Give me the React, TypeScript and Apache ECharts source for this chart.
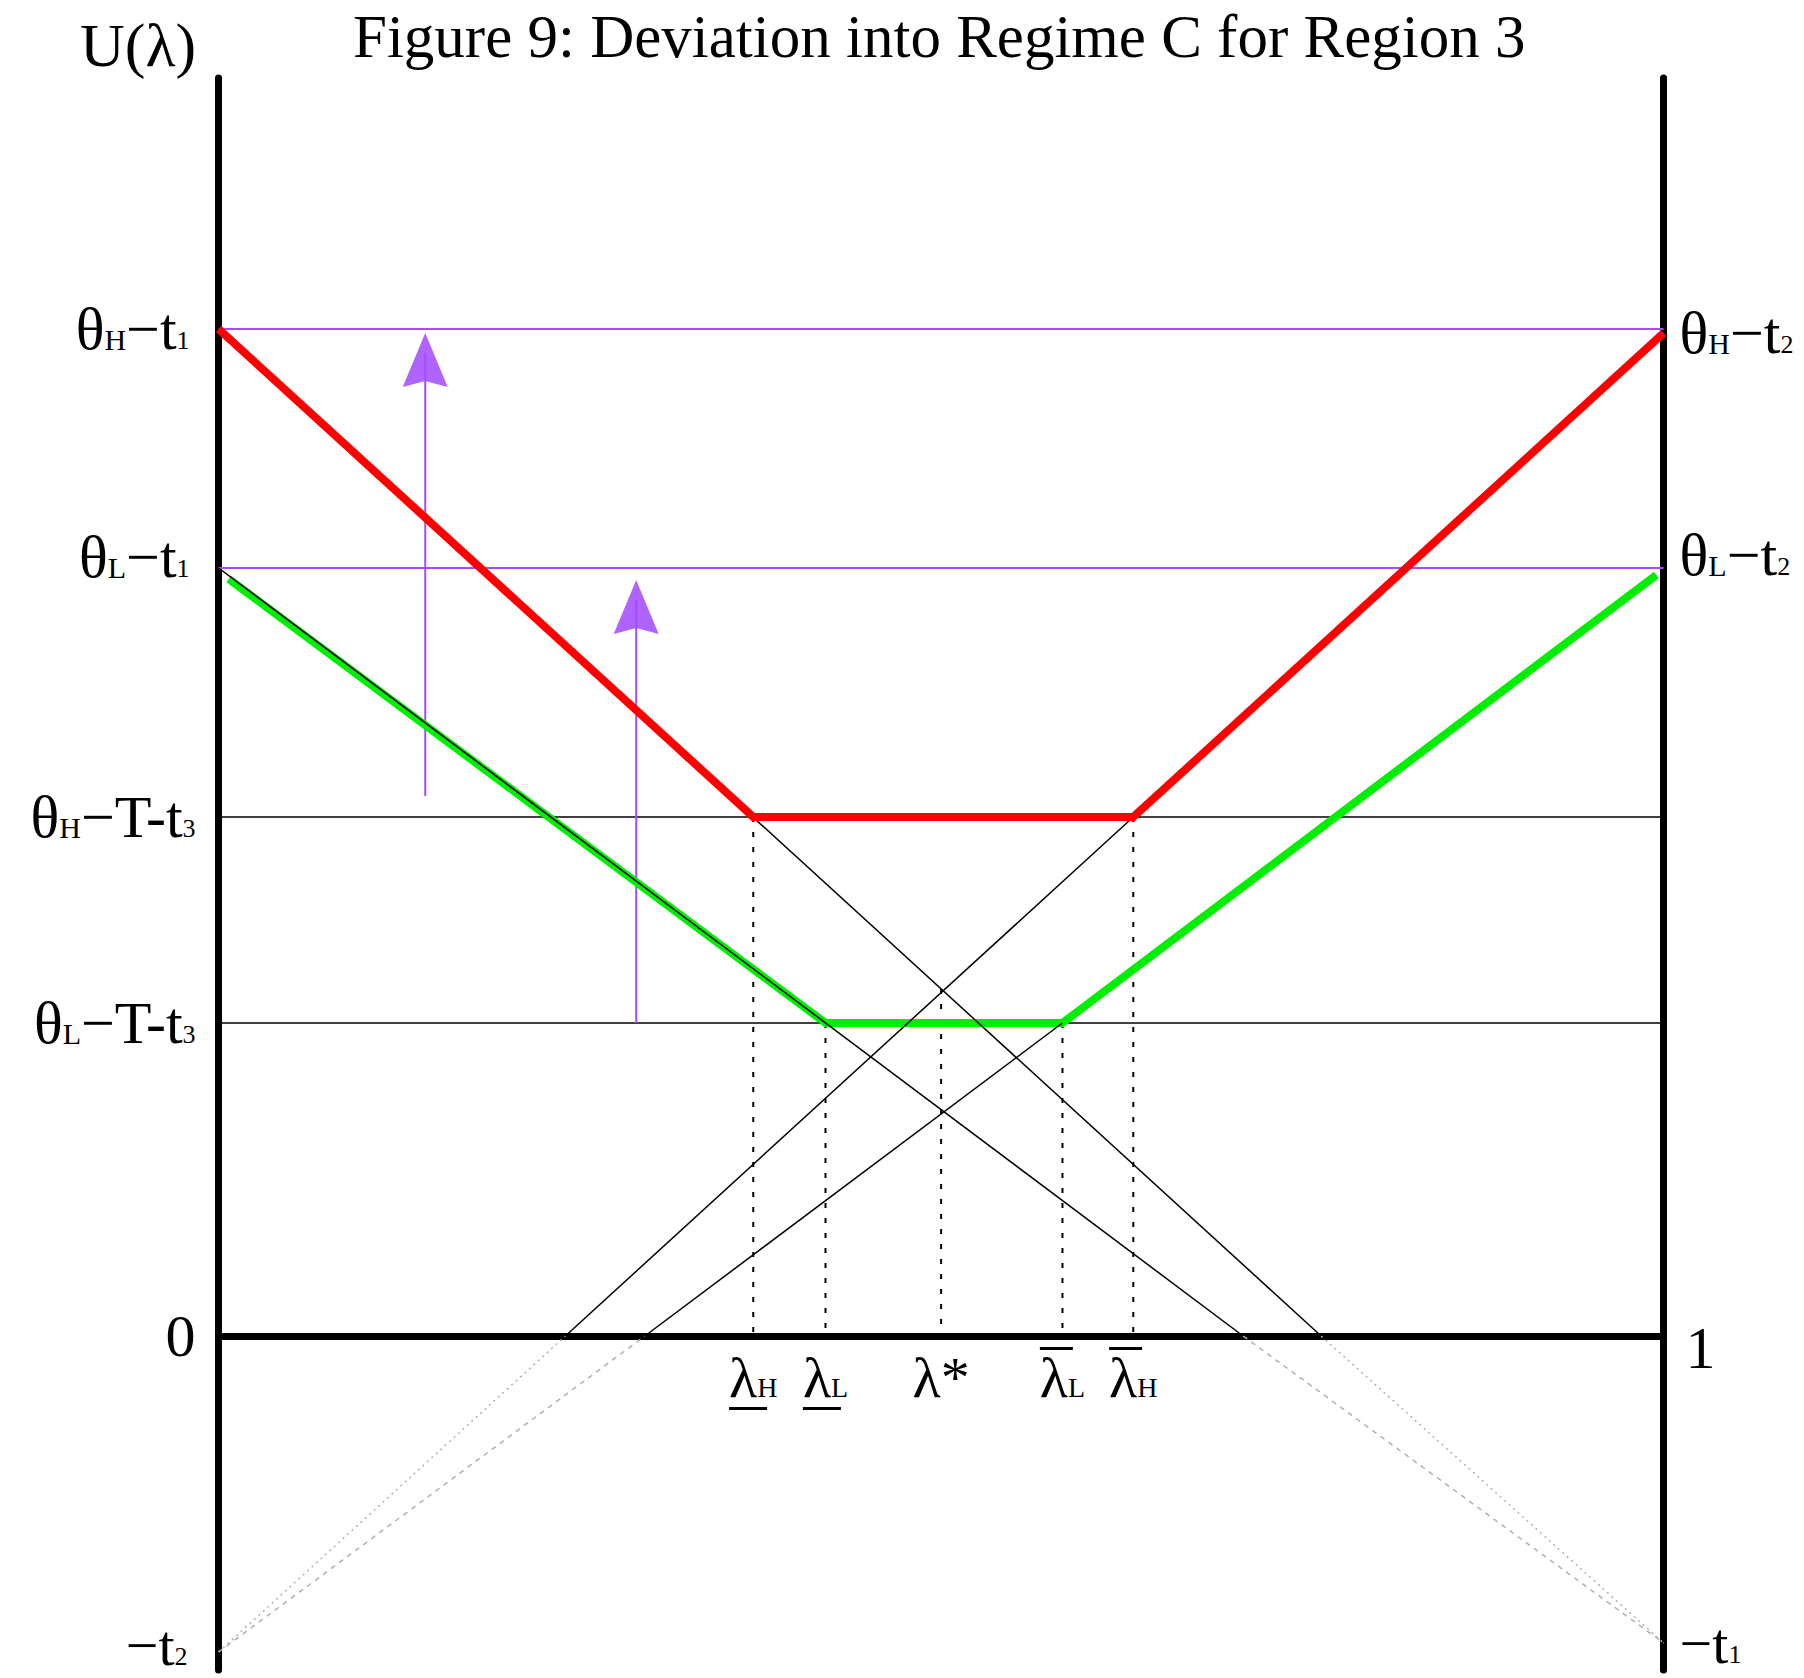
import { useEffect, useRef } from 'react';
import * as echarts from 'echarts';

const SERIF = '"Liberation Serif", "Times New Roman", Times, serif';
const INK = '#000000';
const RED = '#ff0000';
const GREEN = '#00ee00';
const VIOLET = '#a24dff';
const VIOLET_HEAD = '#9b3cff';
const GREY = '#b0b0b0';

// Plot frame
const WIDTH = 1804;
const HEIGHT = 1678;
const GRID_LEFT = 218.6;
const GRID_RIGHT = 140.4;
const GRID_TOP = 78;
const GRID_BOTTOM = 8;
const GRID_HEIGHT = HEIGHT - GRID_TOP - GRID_BOTTOM;

// Extent of the U(λ) scale
const U_MIN = -0.334;
const U_MAX = 1.258;

// Levels marked on the left edge (λ = 0)
const leftLevelValues = [1.007, 0.768, 0.519, 0.313, 0, -0.316];
const leftLevelLabels = [
  '{m|θ}{s|H}{m|−t}{d1|1}',
  '{m|θ}{s|L}{m|−t}{d1|1}\n{gapL| }',
  '{m|θ}{s|H}{m|−T-t}{d|3}',
  '{m|θ}{s|L}{m|−T-t}{d|3}',
  '{m|0}',
  '{mt|−t}{dt|2}\n{gapB| }',
];

// Levels marked on the right edge (λ = 1)
const rightLevelValues = [1.003, 0.761, 0, -0.307];
const rightLevelLabels = [
  '{m|θ}{s|H}{m|−t}{d|2}',
  '{m|θ}{s|L}{m|−t}{d|2}\n{gapR| }',
  '{gapD| }\n{one|1}',
  '{mt|−t}{dr|1}',
];

// Cut-off beliefs on the λ axis
const lambdaValues = [0.37, 0.42, 0.5, 0.584, 0.633];
const lambdaLabels = [
  '{l|λ}{b|H}\n{u| }',
  '{l|λ}{b|L}\n{u| }',
  '{l|λ*}',
  '{o| }\n{lo|λ}{bo|L}',
  '{o| }\n{lo|λ}{bo|H}',
];
// Height at which each dotted cut-off line starts
const cutoffTops = [0.519, 0.313, 0.347, 0.313, 0.519];

// Floors θ−T−t3 and the θ−t1 reference levels
const highFloor = 0.519;
const lowFloor = 0.313;
const highCeiling = 1.007;
const lowCeiling = 0.768;

// Upper envelopes (λ, U) for the high and low type
const highEnvelope = [
  [0, 1.007],
  [0.37, 0.519],
  [0.633, 0.519],
  [1, 1.003],
];
const lowEnvelope = [
  [0.007, 0.757],
  [0.42, 0.313],
  [0.584, 0.313],
  [0.995, 0.761],
];

// Thin payoff lines above the λ axis
const highFalling = [
  [0, 1.007],
  [0.763, 0],
];
const lowFalling = [
  [0, 0.768],
  [0.709, 0],
];
const highRising = [
  [0.24, 0],
  [0.633, 0.519],
];
const lowRising = [
  [0.295, 0],
  [0.584, 0.313],
];

// Their continuations below zero
const highRisingBelow = [
  [0, -0.316],
  [0.24, 0],
];
const lowRisingBelow = [
  [0, -0.316],
  [0.295, 0],
];
const highFallingBelow = [
  [0.763, 0],
  [1, -0.307],
];
const lowFallingBelow = [
  [0.709, 0],
  [1, -0.307],
];

// Upward deviation arrows
const arrowLambdas = [0.143, 0.289];
const arrowBases = [0.54, 0.313];
const arrowTips = [1.003, 0.756];

const ARROW_HEAD = 'path://M0,0 L22,54 L0,48 L-22,54 Z';

function seg(data: number[][], color: string, width: number, type: any = 'solid') {
  return {
    type: 'line',
    data,
    symbol: 'none',
    showSymbol: false,
    silent: true,
    animation: false,
    emphasis: { disabled: true },
    lineStyle: { color, width, type, cap: 'butt', join: 'miter' },
  };
}

function pick(values: number[], labels: string[], v: number) {
  let best = 0;
  for (let i = 1; i < values.length; i++) {
    if (Math.abs(values[i] - v) < Math.abs(values[best] - v)) best = i;
  }
  return labels[best];
}

// Small letters that sit on the baseline of the larger text beside them
const sub = (fontSize: number, height: number, padRight = 0) => ({
  fontFamily: SERIF,
  fontSize,
  height,
  lineHeight: height,
  verticalAlign: 'bottom',
  color: INK,
  padding: [0, padRight, 0, 0],
});

const levelRich = {
  m: { fontFamily: SERIF, fontSize: 60, lineHeight: 60, color: INK },
  s: sub(30, 40),
  d: sub(26, 37),
  d1: sub(26, 37, 6),
  mt: { fontFamily: SERIF, fontSize: 58, lineHeight: 48, color: INK },
  dt: sub(26, 26, 8),
  dr: sub(26, 26),
  one: { fontFamily: SERIF, fontSize: 60, lineHeight: 60, color: INK, padding: [0, 0, 0, 6] },
  gapL: { fontSize: 1, lineHeight: 22 },
  gapR: { fontSize: 1, lineHeight: 40 },
  gapD: { fontSize: 1, lineHeight: 24 },
  gapB: { fontSize: 1, lineHeight: 14 },
};

const lambdaRich = {
  l: { fontFamily: SERIF, fontSize: 58, lineHeight: 60, color: INK },
  b: sub(28, 40),
  lo: { fontFamily: SERIF, fontSize: 58, lineHeight: 54, color: INK },
  bo: sub(28, 34),
  u: { fontSize: 1, width: 38, height: 3, lineHeight: 3, backgroundColor: INK, align: 'left' },
  o: { fontSize: 1, width: 33, height: 3, lineHeight: 3, backgroundColor: INK, align: 'left' },
};

function buildOption() {
  const series: any[] = [];

  // Floors θ−T−t3
  series.push(seg([[0, highFloor], [1, highFloor]], INK, 1.5));
  series.push(seg([[0, lowFloor], [1, lowFloor]], INK, 1.5));
  // θ−t1 reference levels
  series.push(seg([[0, highCeiling], [1, highCeiling]], VIOLET, 2));
  series.push(seg([[0, lowCeiling], [1, lowCeiling]], VIOLET, 2));

  // Deviation arrows
  arrowLambdas.forEach((x, i) => {
    series.push(seg([[x, arrowBases[i]], [x, arrowTips[i] - 0.02]], VIOLET, 2));
  });
  series.push({
    type: 'scatter',
    data: arrowLambdas.map((x, i) => [x, arrowTips[i]]),
    symbol: ARROW_HEAD,
    symbolSize: [45, 54],
    symbolOffset: [0, 27],
    itemStyle: { color: VIOLET_HEAD },
    silent: true,
    animation: false,
  });

  // Payoffs below zero
  series.push(seg(highRisingBelow, GREY, 1.5, [2, 4]));
  series.push(seg(lowRisingBelow, GREY, 1.5, [5, 5]));
  series.push(seg(highFallingBelow, GREY, 1.5, [2, 4]));
  series.push(seg(lowFallingBelow, GREY, 1.5, [5, 5]));

  // Dotted cut-offs down to the λ axis
  lambdaValues.forEach((x, i) => {
    series.push(seg([[x, cutoffTops[i]], [x, 0]], INK, 2, [5, 10]));
  });

  // Low type envelope, thin payoff lines, high type envelope
  series.push(seg(lowEnvelope, GREEN, 8));
  series.push(seg(highFalling, INK, 1.5));
  series.push(seg(lowFalling, INK, 1.5));
  series.push(seg(highRising, INK, 1.5));
  series.push(seg(lowRising, INK, 1.5));
  series.push(seg(highEnvelope, RED, 8));

  // The λ axis sits on U = 0
  const zeroOffset = -((0 - U_MIN) / (U_MAX - U_MIN)) * GRID_HEIGHT;

  return {
    animation: false,
    backgroundColor: '#ffffff',
    title: [
      {
        text: 'Figure 9: Deviation into Regime C for Region 3',
        left: 353,
        top: 6,
        padding: 0,
        textStyle: { fontFamily: SERIF, fontSize: 61, lineHeight: 61, fontWeight: 'normal', color: INK },
      },
      {
        text: 'U(λ)',
        left: 80,
        top: 14,
        padding: 0,
        textStyle: { fontFamily: SERIF, fontSize: 62, lineHeight: 62, fontWeight: 'normal', color: INK },
      },
    ],
    grid: {
      left: GRID_LEFT,
      right: GRID_RIGHT,
      top: GRID_TOP,
      bottom: GRID_BOTTOM,
      containLabel: false,
      outerBoundsMode: 'none',
    },
    xAxis: {
      type: 'value',
      min: 0,
      max: 1,
      position: 'bottom',
      offset: zeroOffset,
      axisLine: { show: true, onZero: false, lineStyle: { color: INK, width: 7 } },
      axisTick: { show: false },
      splitLine: { show: false },
      axisLabel: {
        show: true,
        customValues: lambdaValues,
        margin: 11,
        color: INK,
        formatter: (v: number) => pick(lambdaValues, lambdaLabels, v),
        rich: lambdaRich,
      },
    },
    yAxis: [
      {
        type: 'value',
        position: 'left',
        min: U_MIN,
        max: U_MAX,
        axisLine: { show: true, onZero: false, lineStyle: { color: INK, width: 7 } },
        axisTick: { show: false },
        splitLine: { show: false },
        axisLabel: {
          show: true,
          customValues: leftLevelValues,
          margin: 23,
          color: INK,
          formatter: (v: number) => pick(leftLevelValues, leftLevelLabels, v),
          rich: levelRich,
        },
      },
      {
        type: 'value',
        position: 'right',
        min: U_MIN,
        max: U_MAX,
        axisLine: { show: true, onZero: false, lineStyle: { color: INK, width: 7 } },
        axisTick: { show: false },
        splitLine: { show: false },
        axisLabel: {
          show: true,
          customValues: rightLevelValues,
          margin: 16,
          color: INK,
          formatter: (v: number) => pick(rightLevelValues, rightLevelLabels, v),
          rich: levelRich,
        },
      },
    ],
    series,
  };
}

export default function App() {
  const ref = useRef<HTMLDivElement>(null);
  useEffect(() => {
    if (!ref.current) return;
    const chart = echarts.init(ref.current, null, { renderer: 'svg' });
    chart.setOption(buildOption() as any);
    return () => chart.dispose();
  }, []);
  return (
    <div
      ref={ref}
      style={{ position: 'absolute', left: 0, top: 0, width: WIDTH, height: HEIGHT, background: '#ffffff' }}
    />
  );
}
